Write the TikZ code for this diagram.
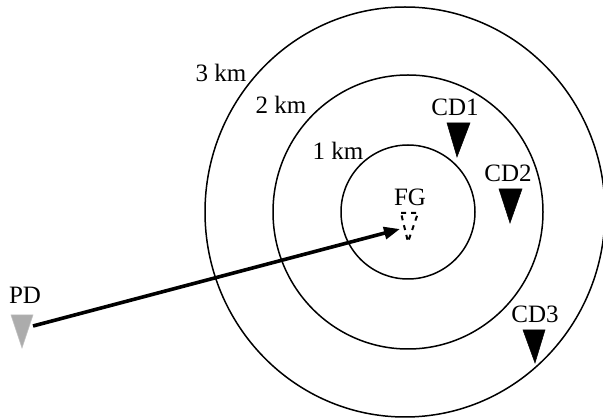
\documentclass[tikz,border=0pt]{standalone}
\usepackage{fontspec}
\setmainfont{Liberation Serif}
\usetikzlibrary{arrows.meta}
\begin{document}
\begin{tikzpicture}[x=1pt,y=-1pt,
  ring/.style={draw=black,line width=1.5pt},
  lbl/.style={anchor=base,inner sep=0pt,font=\fontsize{25}{28}\selectfont},
  cdtri/.style={fill=black,draw=black,line width=0.5pt,line join=miter},
  fgtri/.style={draw=black,line width=2pt,dash pattern=on 5pt off 5pt},
  pdtri/.style={fill=gray!65,draw=gray!50,line width=0.5pt},
  shot/.style={line width=3.6pt,-{Triangle[length=16pt,width=12pt]}}]
\useasboundingbox (0,0) rectangle (603,419);
\begin{scope}
\clip (0,0) rectangle (603,419);
\draw[ring] (405,212) ellipse [x radius=200, y radius=205];
\draw[ring] (408,212) ellipse [x radius=135, y radius=137];
\draw[ring] (408,212) circle [radius=67];
\end{scope}
% labels
\node[lbl] (l3) at (221,82) {3 km};
\node[lbl] (l2) at (281,114) {2 km};
\node[lbl] (l1) at (338,160) {1 km};
\node[lbl] (cd1) at (455,116) {CD1};
\node[lbl] (cd2) at (508,182) {CD2};
\node[lbl] (cd3) at (535,323) {CD3};
\node[lbl] (fg) at (410,206) {FG};
\node[lbl] (pd) at (25,304) {PD};
% sensor triangles
\draw[cdtri] (447,123) -- (470,123) -- (457,157) -- cycle;
\draw[cdtri] (499,189) -- (522,189) -- (510,223) -- cycle;
\draw[cdtri] (523,330) -- (545,330) -- (535,363) -- cycle;
\draw[fgtri] (401,213) -- (418,213) -- (408,242) -- cycle;
\draw[pdtri] (11,315) -- (33,315) -- (22,348) -- cycle;
% connector
\coordinate (pdout) at (33,326);
\coordinate (fgin) at (400,229);
\draw[shot] (pdout) -- (fgin);
\end{tikzpicture}
\end{document}
